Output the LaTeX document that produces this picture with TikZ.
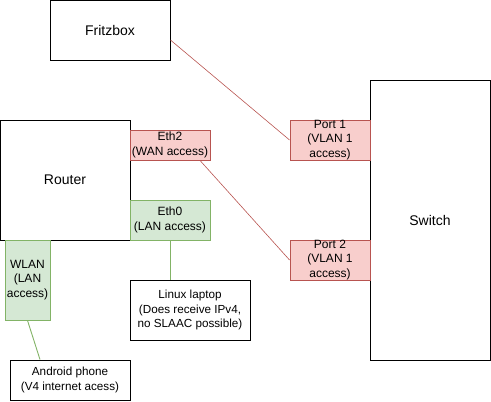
\documentclass[tikz,border=0pt]{standalone}
\usepackage{fontspec}
\setmainfont{Liberation Sans}
\definecolor{redfill}{HTML}{F8CECC}
\definecolor{redline}{HTML}{B85450}
\definecolor{greenfill}{HTML}{D5E8D4}
\definecolor{greenline}{HTML}{82B366}
\tikzset{
  box/.style={draw=black, line width=0.9pt, fill=white, inner sep=0pt, align=center, font=\fontsize{14}{16.8}\selectfont},
  redbox/.style={box, draw=redline, fill=redfill, font=\fontsize{12}{14.4}\selectfont},
  greenbox/.style={box, draw=greenline, fill=greenfill, font=\fontsize{12}{14.4}\selectfont},
  smallbox/.style={box, font=\fontsize{11.7}{14.4}\selectfont},
  redlink/.style={draw=redline, line width=0.6pt},
  greenlink/.style={draw=greenline, line width=0.9pt}
}
\begin{document}
\begin{tikzpicture}[x=1pt,y=-1pt]
\useasboundingbox (0,0) rectangle (491,402);
\node[box, minimum width=120pt, minimum height=60pt] (fritz) at (110,30) {Fritzbox};
\node[box, minimum width=130pt, minimum height=120pt] (router) at (65,180) {Router};
\node[redbox, minimum width=80pt, minimum height=30pt] (eth2) at (170,145) {Eth2\\(WAN access)};
\node[greenbox, minimum width=80pt, minimum height=40pt] (eth0) at (170,220) {Eth0\\(LAN access)};
\node[greenbox, minimum width=45pt, minimum height=80pt] (wlan) at (27.5,280) {WLAN\\(LAN\\access)};
\node[smallbox, minimum width=120pt, minimum height=60pt] (laptop) at (190,310) {Linux laptop\\(Does receive IPv4,\\no SLAAC possible)};
\node[smallbox, minimum width=120pt, minimum height=40pt] (android) at (70,380) {Android phone\\(V4 internet acess)};
\node[box, minimum width=120pt, minimum height=280pt] (switch) at (430,220) {Switch};
\node[redbox, minimum width=80pt, minimum height=40pt] (port1) at (330,140) {Port 1\\(VLAN 1\\access)};
\node[redbox, minimum width=80pt, minimum height=40pt] (port2) at (330,260) {Port 2\\(VLAN 1\\access)};
\draw[redlink] ([yshift=-10pt]fritz.east) -- (port1.west);
\draw[redlink] ([xshift=30pt]eth2.south) -- (port2.west);
\draw[greenlink] (eth0.south) -- (laptop.north -| eth0.south);
\draw[greenlink] (wlan.south) -- ([xshift=-30pt]android.north);
\end{tikzpicture}
\end{document}
